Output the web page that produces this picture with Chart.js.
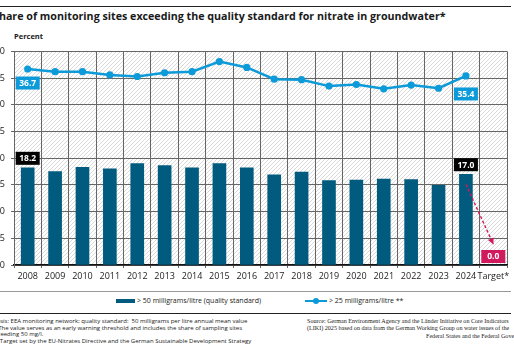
<!DOCTYPE html>
<html>
<head>
    <title>Nitrate in groundwater</title>
    <script src="https://cdn.jsdelivr.net/npm/chart.js"></script>
    <style>
        body {
            margin: 0;
            width: 514px;
            height: 352px;
            overflow: hidden;
            position: relative;
            background: #fff;
            font-family: "Open Sans", Arial, sans-serif;
            color: #1a1a1a;
        }
        .rule { position: absolute; left: 0; width: 511px; }
        #title {
            position: absolute; left: -7px; top: 9px;
            font-weight: bold; font-size: 10.7px; white-space: nowrap;
        }
        #unit {
            position: absolute; left: 14px; top: 31px;
            font-weight: bold; font-size: 7.5px;
        }
        #chartBox {
            position: absolute; left: -12px; top: 40px;
            width: 526px; height: 250px;
        }
        .lg {
            position: absolute; top: 296px; font-size: 7px; white-space: nowrap;
            display: flex; align-items: center;
        }
        .sw-bar { display: inline-block; width: 19px; height: 4px; background: #005b7f; margin-right: 2px; }
        .sw-line { position: relative; display: inline-block; width: 22px; height: 2px; background: #0c9ad8; margin-right: 2px; }
        .sw-line::after {
            content: ""; position: absolute; left: 8px; top: -2px;
            width: 6px; height: 6px; border-radius: 50%; background: #0c9ad8;
        }
        .note { position: absolute; font-size: 6px; white-space: nowrap; line-height: 6.7px; }
        .src {
            position: absolute;
            font-family: "Liberation Serif", "DejaVu Serif", serif;
            font-size: 6.1px; white-space: nowrap;
        }
    </style>
</head>
<body>
    <div class="rule" style="top:6px; border-top:1.5px solid #222;"></div>
    <div id="title">Share of monitoring sites exceeding the quality standard for nitrate in groundwater*</div>
    <div id="unit">Percent</div>
    <div id="chartBox"><canvas id="nitrateChart"></canvas></div>
    <div class="rule" style="top:291px; border-top:1px solid #999;"></div>

    <div class="lg" style="left:116px;"><span class="sw-bar"></span>&gt; 50 milligrams/litre (quality standard)</div>
    <div class="lg" style="left:305px;"><span class="sw-line"></span>&gt; 25 milligrams/litre **</div>

    <div class="rule" style="top:313px; border-top:1.5px solid #222;"></div>
    <div class="note" style="left:-7px; top:318px;">Basis: EEA monitoring network; quality standard:&nbsp; 50 milligrams per litre annual mean value</div>
    <div class="note" style="left:-10px; top:324.7px;">** The value serves as an early warning threshold and includes the share of sampling sites</div>
    <div class="note" style="left:-9px; top:331.4px;">exceeding 50 mg/l.</div>
    <div class="note" style="left:-5px; top:338.1px;">* Target set by the EU-Nitrates Directive and the German Sustainable Development Strategy</div>
    <div class="src" style="left:307px; top:318px;">Source: German Environment Agency and the Länder Initiative on Core Indicators</div>
    <div class="src" style="left:307px; top:325.3px;">(LIKI) 2025 based on data from the German Working Group on water issues of the</div>
    <div class="src" style="left:426px; top:332.6px;">Federal States and the Federal Government</div>

    <script>
        const years = ['2008', '2009', '2010', '2011', '2012', '2013', '2014', '2015', '2016',
                       '2017', '2018', '2019', '2020', '2021', '2022', '2023', '2024', 'Target*'];
        const over50 = [18.2, 17.5, 18.3, 18.0, 19.0, 18.6, 18.2, 19.0, 18.2,
                        16.9, 17.4, 15.8, 15.9, 16.1, 16.0, 14.9, 17.0, 0];
        const over25 = [36.7, 36.2, 36.2, 35.6, 35.3, 36.0, 36.2, 38.1, 37.0,
                        34.8, 34.7, 33.5, 33.8, 33.0, 33.7, 33.1, 35.4, null];
        const targetPath = [null, null, null, null, null, null, null, null, null,
                            null, null, null, null, null, null, null, 15.1, 3.9];
        const yMin = 0, yMax = 40, yStep = 5;

        const darkBlue = '#005b7f';
        const lightBlue = '#0c9ad8';
        const magenta = '#d0195e';

        function makeHatch() {
            const c = document.createElement('canvas');
            c.width = 4; c.height = 4;
            const g = c.getContext('2d');
            g.fillStyle = '#fff';
            g.fillRect(0, 0, 4, 4);
            g.strokeStyle = '#cfcfcf';
            g.lineWidth = 0.8;
            g.beginPath();
            g.moveTo(0, 4); g.lineTo(4, 0);
            g.moveTo(-1, 1); g.lineTo(1, -1);
            g.moveTo(3, 5); g.lineTo(5, 3);
            g.stroke();
            return c;
        }

        const hatchPlugin = {
            id: 'hatch',
            beforeDraw(chart) {
                const { ctx, chartArea: a } = chart;
                ctx.save();
                ctx.fillStyle = ctx.createPattern(makeHatch(), 'repeat');
                ctx.fillRect(a.left, a.top, a.right - a.left, a.bottom - a.top);
                ctx.restore();
            }
        };

        // value boxes: dataset index, point index, fill colour, vertical placement
        const boxes = [
            { ds: 1, i: 0, color: lightBlue, place: 'below', gap: 14 },
            { ds: 1, i: 16, color: lightBlue, place: 'below', gap: 18 },
            { ds: 0, i: 0, color: '#000', place: 'above', gap: 3 },
            { ds: 0, i: 16, color: '#000', place: 'above', gap: 3 },
            { ds: 0, i: 17, color: magenta, place: 'above', gap: 2 }
        ];

        const boxPlugin = {
            id: 'boxes',
            afterDatasetsDraw(chart) {
                const ctx = chart.ctx;
                // arrow head on the dashed target path
                const pm = chart.getDatasetMeta(2).data;
                const p1 = pm[16], p2 = pm[17];
                const ang = Math.atan2(p2.y - p1.y, p2.x - p1.x);
                ctx.save();
                ctx.fillStyle = magenta;
                ctx.translate(p2.x, p2.y);
                ctx.rotate(ang);
                ctx.beginPath();
                ctx.moveTo(0, 0);
                ctx.lineTo(-6, -3.2);
                ctx.lineTo(-6, 3.2);
                ctx.closePath();
                ctx.fill();
                ctx.restore();

                ctx.save();
                ctx.font = 'bold 8.5px "Open Sans", Arial, sans-serif';
                ctx.textAlign = 'center';
                ctx.textBaseline = 'middle';
                boxes.forEach(b => {
                    const el = chart.getDatasetMeta(b.ds).data[b.i];
                    const val = chart.data.datasets[b.ds].data[b.i];
                    const txt = val.toFixed(1);
                    const w = 24, h = 13;
                    const cy = b.place === 'below' ? el.y + b.gap : el.y - b.gap - h / 2;
                    ctx.fillStyle = b.color;
                    ctx.fillRect(el.x - w / 2, cy - h / 2, w, h);
                    ctx.fillStyle = '#fff';
                    ctx.fillText(txt, el.x, cy + 0.5);
                });
                ctx.restore();
            }
        };

        new Chart(document.getElementById('nitrateChart'), {
            type: 'bar',
            data: {
                labels: years,
                datasets: [
                    {
                        label: '> 50 milligrams/litre (quality standard)',
                        data: over50,
                        backgroundColor: darkBlue,
                        barThickness: 13,
                        order: 3
                    },
                    {
                        type: 'line',
                        label: '> 25 milligrams/litre **',
                        data: over25,
                        borderColor: lightBlue,
                        backgroundColor: lightBlue,
                        borderWidth: 2.5,
                        pointRadius: 3.6,
                        pointBorderWidth: 0,
                        tension: 0,
                        order: 1
                    },
                    {
                        type: 'line',
                        label: 'target path',
                        data: targetPath,
                        borderColor: magenta,
                        borderWidth: 1.4,
                        borderDash: [3, 2],
                        pointRadius: 0,
                        order: 2
                    }
                ]
            },
            options: {
                responsive: true,
                maintainAspectRatio: false,
                animation: false,
                layout: { padding: { top: 10.7, right: 7, left: 0, bottom: 0 } },
                plugins: {
                    legend: { display: false },
                    tooltip: { enabled: false }
                },
                scales: {
                    x: {
                        afterFit: s => { s.height = 25; },
                        grid: { color: '#666', lineWidth: 1, tickLength: 3, offset: true },
                        border: { color: '#111', width: 1.5 },
                        ticks: {
                            padding: 3,
                            color: '#222',
                            font: { family: '"Open Sans", Arial, sans-serif', size: 9 },
                            maxRotation: 0,
                            autoSkip: false
                        }
                    },
                    y: {
                        min: yMin,
                        max: yMax,
                        afterFit: s => { s.width = 26; },
                        grid: { color: '#666', lineWidth: 1, tickLength: 3 },
                        border: { color: '#666', width: 1 },
                        ticks: {
                            stepSize: yStep,
                            padding: 6,
                            color: '#222',
                            font: { family: '"Open Sans", Arial, sans-serif', size: 9 }
                        }
                    }
                }
            },
            plugins: [hatchPlugin, boxPlugin]
        });
    </script>
</body>
</html>
